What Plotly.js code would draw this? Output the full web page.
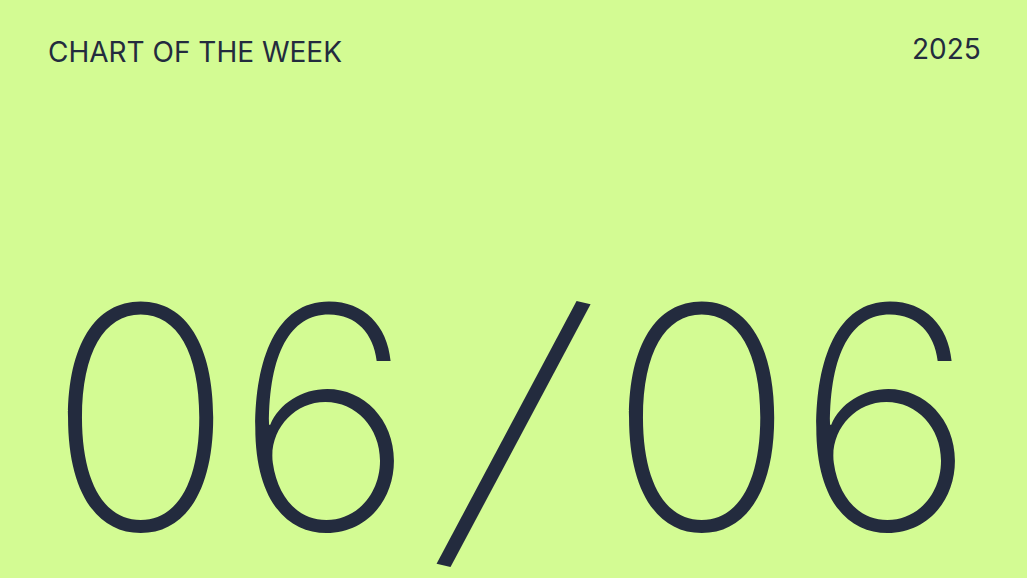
<!DOCTYPE html>
<html>
<head>
<meta charset="utf-8">
<script src="https://cdn.plot.ly/plotly-3.0.1.min.js"></script>
<style>
  html, body { margin: 0; padding: 0; background: #d3fb93; }
  #card { width: 1027px; height: 578px; }
</style>
</head>
<body>
<div id="card"></div>
<script>
// Card texts
const headerLabel = 'CHART OF THE WEEK';
const yearLabel = '2025';
const dayLabel = '06';
const monthLabel = '06';

const ink = '#232b3e';
const bg = '#d3fb93';
const bigFont = { family: 'Inter, sans-serif', size: 310, color: ink, weight: 200 };

const layout = {
  width: 1027, height: 578,
  margin: { l: 0, r: 0, t: 0, b: 0 },
  paper_bgcolor: bg, plot_bgcolor: bg,
  showlegend: false,
  xaxis: { visible: false, range: [0, 1], fixedrange: true },
  yaxis: { visible: false, range: [0, 1], fixedrange: true },
  annotations: [
    { text: headerLabel, xref: 'paper', yref: 'paper', x: 0.0445, y: 0.91,
      xanchor: 'left', yanchor: 'middle', showarrow: false,
      font: { family: 'Inter, Roboto, sans-serif', size: 28, color: ink, weight: 400 } },
    { text: yearLabel, xref: 'paper', yref: 'paper', x: 0.957, y: 0.915,
      xanchor: 'right', yanchor: 'middle', showarrow: false,
      font: { family: 'Inter, Roboto, sans-serif', size: 28, color: ink, weight: 400 } },
    { text: dayLabel, xref: 'paper', yref: 'paper', x: 0.2254, y: 0.278,
      xanchor: 'center', yanchor: 'middle', showarrow: false, font: bigFont },
    // the slash leans further than Inter's, so tilt it a little
    { text: '/', xref: 'paper', yref: 'paper', x: 0.503, y: 0.27, textangle: 13,
      xanchor: 'center', yanchor: 'middle', showarrow: false,
      font: { ...bigFont, size: 330 } },
    { text: monthLabel, xref: 'paper', yref: 'paper', x: 0.771, y: 0.278,
      xanchor: 'center', yanchor: 'middle', showarrow: false, font: bigFont }
  ]
};

Plotly.newPlot('card', [], layout, { staticPlot: true, displayModeBar: false });
</script>
</body>
</html>
